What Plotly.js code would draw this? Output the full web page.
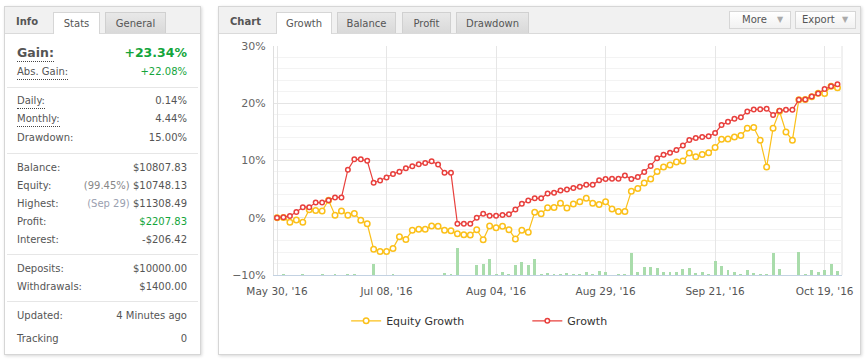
<!DOCTYPE html>
<html><head><meta charset="utf-8">
<script src="https://cdn.plot.ly/plotly-3.0.1.min.js"></script>
<style>
body{margin:0;width:868px;height:363px;background:#fff;font-family:"DejaVu Sans",sans-serif;font-size:10px;color:#555;position:relative;overflow:hidden}
.abs{position:absolute}
.panel{position:absolute;border:1px solid #d6d6d6;background:#fff;box-shadow:1px 1px 3px rgba(0,0,0,0.16);box-sizing:border-box}
.hdr{position:absolute;left:0;top:0;right:0;height:26px;background:#f1f1f1;border-bottom:1px solid #dadada}
.tab{position:absolute;top:12px;height:21px;box-sizing:border-box;border:1px solid #d0d0d0;border-bottom:none;text-align:center;line-height:21px;color:#555;background:linear-gradient(#e8e8e8,#d9d9d9)}
.tab.active{background:#fff;height:22px;border-color:#d6d6d6}
.ttl{position:absolute;font-weight:bold;color:#555;line-height:14px}
.row{position:absolute;left:17px;width:170px;height:14px;line-height:14px;white-space:nowrap}
.row .v{position:absolute;right:0;top:0}
.dot{border-bottom:1px dotted #444;padding-bottom:2px}
.div{position:absolute;left:7px;width:191px;height:1px;background:#e6e6e6}
.green{color:#14a53b}
.btn{position:absolute;top:11px;height:18px;box-sizing:border-box;border:1px solid #d6d6d6;background:linear-gradient(#fff,#f1f1f1);line-height:16px;color:#555}
.arr{position:absolute;top:0;color:#aaa;font-size:8px}
</style></head>
<body>
<!-- left panel -->
<div class="panel" style="left:4px;top:6px;width:197px;height:349px"><div class="hdr"></div></div>
<div class="ttl" style="left:16px;top:15px">Info</div>
<div class="tab active" style="left:53px;width:47px">Stats</div>
<div class="tab" style="left:105px;width:61px">General</div>

<div class="row" style="top:44px;height:17px;line-height:17px;font-weight:bold;font-size:12.5px"><span class="dot" style="padding-bottom:1px">Gain:</span><span class="v green">+23.34%</span></div>
<div class="row" style="top:65px"><span class="dot">Abs. Gain:</span><span class="v green">+22.08%</span></div>
<div class="div" style="top:87px"></div>
<div class="row" style="top:94px"><span class="dot">Daily:</span><span class="v">0.14%</span></div>
<div class="row" style="top:112px"><span class="dot">Monthly:</span><span class="v">4.44%</span></div>
<div class="row" style="top:131px"><span>Drawdown:</span><span class="v">15.00%</span></div>
<div class="div" style="top:153px"></div>
<div class="row" style="top:161px"><span>Balance:</span><span class="v">$10807.83</span></div>
<div class="row" style="top:179px"><span>Equity:</span><span class="v"><span style="color:#888">(99.45%)</span> $10748.13</span></div>
<div class="row" style="top:197px"><span>Highest:</span><span class="v"><span style="color:#9aa0b0">(Sep 29)</span> $11308.49</span></div>
<div class="row" style="top:215px"><span>Profit:</span><span class="v green">$2207.83</span></div>
<div class="row" style="top:233px"><span>Interest:</span><span class="v">-$206.42</span></div>
<div class="div" style="top:254px"></div>
<div class="row" style="top:262px"><span>Deposits:</span><span class="v">$10000.00</span></div>
<div class="row" style="top:280px"><span>Withdrawals:</span><span class="v">$1400.00</span></div>
<div class="div" style="top:301px"></div>
<div class="row" style="top:309px"><span>Updated:</span><span class="v">4 Minutes ago</span></div>
<div class="row" style="top:332px"><span>Tracking</span><span class="v">0</span></div>

<!-- chart panel -->
<div class="panel" style="left:218px;top:6px;width:643px;height:349px"><div class="hdr"></div></div>
<div class="ttl" style="left:230px;top:15px">Chart</div>
<div class="tab active" style="left:276px;width:56px">Growth</div>
<div class="tab" style="left:337px;width:59px">Balance</div>
<div class="tab" style="left:402px;width:49px">Profit</div>
<div class="tab" style="left:456px;width:73px">Drawdown</div>
<div class="btn" style="left:729px;width:62px"><span class="abs" style="left:12px">More</span><span class="arr" style="left:47px">▼</span></div>
<div class="btn" style="left:795px;width:61px"><span class="abs" style="left:6px">Export</span><span class="arr" style="left:46px">▼</span></div>

<div id="chart" class="abs" style="left:219px;top:34px;width:640px;height:319px"></div>

<script>
const tickLabels = ["May 30, '16","Jul 08, '16","Aug 04, '16","Aug 29, '16","Sep 21, '16","Oct 19, '16"];
const tickIndex = [0,17,34,51,68,85];
const growth = [
 0, 0.1, 0.3, 1.0, 1.85, 1.85, 2.65, 2.65, 3.05, 3.55,
 3.55, 8.4, 10.2, 10.2, 9.95, 6.1, 6.5, 7.05, 7.65, 8.05,
 8.65, 9.0, 9.35, 9.55, 9.85, 9.3, 7.85, 7.85, -1.05, -1.05,
 -1.05, 0, 0.7, 0.35, 0.35, 0.5, 0.6, 1.45, 2.45, 3.0,
 3.4, 3.4, 4.25, 4.35, 4.75, 4.95, 5.2, 5.4, 5.75, 5.75,
 6.55, 6.75, 6.8, 6.8, 7.4, 6.75, 7.1, 8.0, 9.05, 10.4,
 11.0, 11.35, 11.85, 12.6, 13.6, 13.95, 14.1, 14.25, 14.8, 16.2,
 16.75, 17.3, 17.55, 18.55, 18.9, 18.95, 19.05, 17.95, 18.7, 18.85,
 18.85, 20.6, 20.65, 21.2, 21.7, 22.5, 22.95, 23.34];
const equityGrowth = [
 0, 0.05, -0.8, -0.4, -0.8, 1.4, 1.25, 1.2, 3.05, 0.45,
 1.2, 0.45, 0.75, -0.45, -1.05, -5.5, -5.9, -5.9, -5.35, -3.3,
 -3.8, -2.2, -2.0, -2.0, -1.45, -1.5, -2.2, -2.25, -2.8, -2.95,
 -3.0, -2.1, -3.85, -1.45, -1.75, -1.5, -2.1, -3.7, -2.2, -2.55,
 0.95, 0.7, 1.75, 1.8, 2.55, 1.7, 2.4, 2.8, 3.4, 2.55,
 2.3, 2.8, 1.55, 1.1, 1.1, 4.65, 5.1, 6.05, 6.75, 8.1,
 8.85, 9.2, 9.75, 9.9, 11.3, 10.65, 11.05, 11.35, 12.25, 13.7,
 13.75, 14.1, 14.35, 15.65, 15.75, 13.55, 8.85, 15.65, 18.6, 15.0,
 13.55, 20.6, 20.65, 21.15, 21.75, 21.7, 22.95, 22.7];
const activity = [
 0, 0.2, 0, 0, 0.2, 0, 0, 0.2, 0, 0.2,
 0, 0.2, 0.2, 0, 0, 1.9, 0, 0, 0.2, 0,
 0, 0, 0, 0, 0, 0, 0.3, 0.2, 4.65, 0,
 0, 1.7, 2.0, 2.75, 0.2, 0.45, 0.2, 1.7, 2.2, 1.7,
 2.75, 0.15, 0.35, 0.15, 0.15, 0.3, 0.15, 0.15, 0.45, 0.15,
 0.65, 0.45, 0, 0.15, 0.15, 3.8, 0.45, 1.35, 1.45, 1.15,
 0.45, 0.6, 0.45, 1.0, 1.15, 0.3, 0.6, 0.15, 2.4, 1.65,
 0.8, 0.45, 0.1, 0.8, 0.3, 0.15, 0.15, 3.8, 1.0, 0,
 0, 3.95, 0.15, 0.8, 0.6, 0.8, 1.85, 0.65];

const idx = growth.map((_, i) => i);
const RED = '#e8403d', YEL = '#fbc01a', GRN = '#a9dcab';

const traces = [
 {type:'bar', x:idx, y:activity, base:-10, width:0.45, marker:{color:GRN}, showlegend:false, hoverinfo:'skip'},
 {type:'scatter', mode:'lines+markers', name:'Equity Growth', x:idx, y:equityGrowth,
  line:{color:YEL, width:1.2}, marker:{symbol:'circle', size:5.5, color:'#fff', line:{color:YEL, width:1.5}}, legend:'legend'},
 {type:'scatter', mode:'lines+markers', name:'Growth', x:idx, y:growth,
  line:{color:RED, width:1.2}, marker:{symbol:'circle', size:4.5, color:'#fff', line:{color:RED, width:1.5}}, legend:'legend2'}
];

const layout = {
 width:640, height:319,
 margin:{l:55, r:17, t:12, b:78},
 paper_bgcolor:'rgba(0,0,0,0)', plot_bgcolor:'#fff',
 font:{family:'"DejaVu Sans", sans-serif', size:10, color:'#555'},
 barmode:'overlay', bargap:0,
 xaxis:{range:[-0.47, 87.7], tickmode:'array', tickvals:tickIndex, ticktext:tickLabels,
  showgrid:true, gridcolor:'#e6e6e6', gridwidth:1, zeroline:false,
  showline:true, linecolor:'#c3d2e2', linewidth:1, ticks:'', ticklabelstandoff:6,
  tickfont:{size:10.5, color:'#555'}},
 yaxis:{range:[-10, 30], dtick:10, tick0:0, ticksuffix:'%', showgrid:true, gridcolor:'#e4e4e4',
  minor:{dtick:2, showgrid:true, gridcolor:'#f3f3f3', gridwidth:1},
  zeroline:false, showline:true, linecolor:'#dedede', ticks:'', ticklabelstandoff:5,
  tickfont:{size:11, color:'#666'}},
 shapes:[{type:'line', xref:'paper', yref:'paper', x0:1, x1:1, y0:0, y1:1, line:{color:'#e2e2e2', width:1}, layer:'below'}],
 legend:{x:0.127, xanchor:'left', y:-0.2, yanchor:'middle', orientation:'h', bgcolor:'rgba(0,0,0,0)', font:{size:11, color:'#333'}},
 legend2:{x:0.446, xanchor:'left', y:-0.2, yanchor:'middle', orientation:'h', bgcolor:'rgba(0,0,0,0)', font:{size:11, color:'#333'}},
 showlegend:true
};

Plotly.newPlot('chart', traces, layout, {displayModeBar:false, staticPlot:true});
</script>
</body></html>
